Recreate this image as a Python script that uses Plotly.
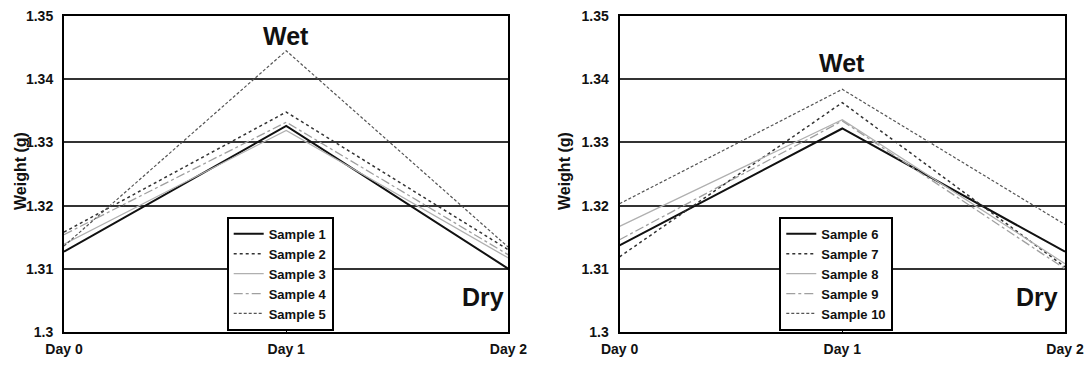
import plotly.graph_objects as go

days = ["Day 0", "Day 1", "Day 2"]
x_idx = [0, 1, 2]

left_names = ["Sample 1", "Sample 2", "Sample 3", "Sample 4", "Sample 5"]
left_values = [
    [1.3127, 1.3326, 1.3100],
    [1.3158, 1.3348, 1.3130],
    [1.3139, 1.3319, 1.3117],
    [1.3154, 1.3332, 1.3122],
    [1.3136, 1.3445, 1.3134],
]
right_names = ["Sample 6", "Sample 7", "Sample 8", "Sample 9", "Sample 10"]
right_values = [
    [1.3137, 1.3322, 1.3127],
    [1.3119, 1.3363, 1.3103],
    [1.3167, 1.3336, 1.3108],
    [1.3146, 1.3334, 1.3100],
    [1.3203, 1.3384, 1.3170],
]
y_ticks = [1.3, 1.31, 1.32, 1.33, 1.34, 1.35]
y_ticklabels = ["1.3", "1.31", "1.32", "1.33", "1.34", "1.35"]

styles = [
    dict(color="#111111", width=2, dash="solid"),
    dict(color="#333333", width=1.5, dash="dot"),
    dict(color="#b0b0b0", width=1.3, dash="solid"),
    dict(color="#a0a0a0", width=1.3, dash="dashdot"),
    dict(color="#555555", width=1.2, dash="3px,2px"),
]

FONT = "Liberation Sans, Arial, sans-serif"

fig = go.Figure()
for name, vals, st in zip(left_names, left_values, styles):
    fig.add_trace(go.Scatter(x=x_idx, y=vals, mode="lines", name=name, line=st,
                             xaxis="x", yaxis="y", legend="legend"))
for name, vals, st in zip(right_names, right_values, styles):
    fig.add_trace(go.Scatter(x=x_idx, y=vals, mode="lines", name=name, line=st,
                             xaxis="x2", yaxis="y2", legend="legend2"))

W, H = 1092, 378
ml, mr, mt, mb = 64, 19, 8, 46
pw = W - ml - mr
ph = H - mt - mb
d1 = [0, (512 - ml) / pw]
d2 = [(624 - ml) / pw, 1]

def xaxis(domain, anchor):
    return dict(domain=domain, anchor=anchor, range=[0, 2], tickvals=x_idx, ticktext=days,
                showline=True, linecolor="black", linewidth=2, mirror=True,
                showgrid=False, zeroline=False, ticks="inside", ticklen=6, tickwidth=1,
                tickcolor="black", ticklabelstandoff=3,
                tickfont=dict(family=FONT, size=14, color="#111", weight="bold"),
                fixedrange=True)

def yaxis(anchor):
    return dict(anchor=anchor, domain=[0, 1], range=[1.3, 1.35], tickvals=y_ticks,
                ticktext=y_ticklabels, showline=True, linecolor="black", linewidth=2,
                mirror=True, showgrid=True, gridcolor="#333333", gridwidth=2,
                zeroline=False, ticks="", ticklabelstandoff=6,
                tickfont=dict(family=FONT, size=14, color="#111", weight="bold"))

def legend(xpx):
    return dict(x=(xpx - ml) / pw, xanchor="left", y=(H - mb - 214) / ph,
                yanchor="top", bgcolor="white", bordercolor="black", borderwidth=2,
                font=dict(family=FONT, size=13, color="#111", weight="bold"),
                tracegroupgap=0, itemwidth=30)

fig.update_layout(
    width=W, height=H, margin=dict(l=ml, r=mr, t=mt, b=mb),
    paper_bgcolor="white", plot_bgcolor="white",
    font=dict(family=FONT, color="#111"),
    xaxis=xaxis(d1, "y"), yaxis=yaxis("x"),
    xaxis2=xaxis(d2, "y2"), yaxis2=yaxis("x2"),
    legend=legend(228), legend2=legend(785),
    showlegend=True,
)

bold = dict(family=FONT, size=25, color="#111", weight="bold")
fig.add_annotation(x=1, y=1.3469, xref="x", yref="y", text="Wet", showarrow=False, font=bold)
fig.add_annotation(x=2, y=1.3056, xref="x", yref="y", text="Dry", showarrow=False,
                   xanchor="right", xshift=-2, font=bold)
fig.add_annotation(x=1, y=1.3425, xref="x2", yref="y2", text="Wet", showarrow=False, font=bold)
fig.add_annotation(x=2, y=1.3056, xref="x2", yref="y2", text="Dry", showarrow=False,
                   xanchor="right", xshift=-5, font=bold)

for xpx in (9, 568):
    fig.add_annotation(x=(xpx - ml) / pw, y=(H - mb - 167) / ph, xref="paper", yref="paper",
                       text="Weight (g)", textangle=-90, showarrow=False,
                       font=dict(family=FONT, size=16, color="#111", weight="bold"))

fig.write_html("out.html")
